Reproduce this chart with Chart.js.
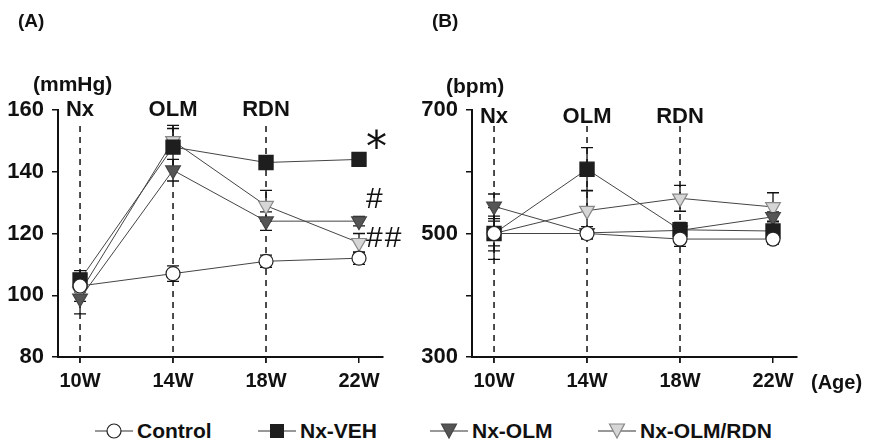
<!DOCTYPE html>
<html>
<head>
<meta charset="utf-8">
<script src="https://cdn.jsdelivr.net/npm/chart.js@4.4.1/dist/chart.umd.min.js"></script>
<style>
  body { margin: 0; background: #fff; font-family: "Liberation Sans", Arial, sans-serif; color: #111; }
  #wrap { position: relative; width: 872px; height: 440px; overflow: hidden; }
  canvas { position: absolute; top: 0; }
  .txt { position: absolute; font-weight: bold; white-space: nowrap; line-height: 1; }
  #legend { position: absolute; top: 419px; left: 0; width: 872px; height: 24px; }
  .item { position: absolute; top: 0; display: flex; align-items: center; font-weight: bold; font-size: 21px; }
  .item svg { margin-right: 4px; }
</style>
</head>
<body>
<div id="wrap">
  <canvas id="chartA" width="436" height="400" style="left:0"></canvas>
  <canvas id="chartB" width="472" height="400" style="left:400px"></canvas>

  <div class="txt" style="left:18px;top:11px;font-size:19px">(A)</div>
  <div class="txt" style="left:432px;top:11px;font-size:19px">(B)</div>
  <div class="txt" style="left:33px;top:73px;font-size:21px">(mmHg)</div>
  <div class="txt" style="left:446px;top:75px;font-size:21px">(bpm)</div>
  <div class="txt" style="left:811px;top:372px;font-size:20px">(Age)</div>

  <div class="txt" style="left:366px;top:126px;font-size:42px;font-weight:normal;font-family:'DejaVu Sans',sans-serif">*</div>
  <div class="txt" style="left:366px;top:183px;font-size:30px;font-weight:normal">#</div>
  <div class="txt" style="left:366px;top:222px;font-size:30px;font-weight:normal;letter-spacing:2px">##</div>

  <div id="legend"></div>
</div>
<script>
// ── Data ──────────────────────────────────────
const weeks = ['10W', '14W', '18W', '22W'];
const seriesNames = ['Control', 'Nx-VEH', 'Nx-OLM', 'Nx-OLM/RDN'];

// (A) blood pressure, mmHg
const bpControl = [103, 107, 111, 112];
const bpVeh     = [105, 148, 143, 144];
const bpOlm     = [99, 140.5, 124, 124];
const bpRdn     = [101, 150, 129, 117];
const bpControlErr = [2, 2.5, 2, 2];
const bpVehErr     = [3, 7, 1, 1];
const bpOlmErr     = [5, 3.5, 3, 1.5];
const bpRdnErr     = [3, 4, 5, 3];
const bpTicks = [80, 100, 120, 140, 160];

// (B) heart rate, bpm
const hrControl = [500, 500, 491, 491];
const hrVeh     = [500, 604, 506, 504];
const hrOlm     = [544, 501, 505, 527];
const hrRdn     = [500, 537, 557, 543];
const hrControlErr = [20, 8, 12, 8];
const hrVehErr     = [42, 35, 12, 8];
const hrOlmErr     = [20, 10, 8, 8];
const hrRdnErr     = [28, 33, 21, 23];
const hrTicks = [300, 400, 500, 600, 700];
const hrLabelled = [300, 500, 700];

const events = ['Nx', 'OLM', 'RDN'];   // at weeks 0, 1, 2

// ── Styles ────────────────────────────────────
const styles = [
  { fill: '#ffffff', stroke: '#222', shape: 'circle',   radius: 7,   rot: 0 },
  { fill: '#1e1e1e', stroke: '#1e1e1e', shape: 'rect',  radius: 10,  rot: 0 },
  { fill: '#555555', stroke: '#444', shape: 'triangle', radius: 8.5, rot: 180 },
  { fill: '#d6d6d6', stroke: '#888', shape: 'triangle', radius: 8.5, rot: 180 },
];
const FONT = '"Liberation Sans", Arial, sans-serif';

function makeDatasets(values, errs) {
  return values.map((vals, i) => ({
    label: seriesNames[i],
    data: vals.map((v, k) => ({ x: k, y: v })),
    errs: errs[i],
    borderColor: '#444',
    borderWidth: 1,
    pointStyle: styles[i].shape,
    pointRadius: styles[i].radius,
    pointRotation: styles[i].rot,
    pointBackgroundColor: styles[i].fill,
    pointBorderColor: styles[i].stroke,
    pointBorderWidth: 1.2,
    tension: 0,
  }));
}

// ── Error bars + dashed event lines ──────────
const extras = {
  id: 'extras',
  beforeDatasetsDraw(chart, args, opts) {
    const { ctx, scales: { x, y }, chartArea } = chart;
    ctx.save();
    // dashed event lines
    ctx.strokeStyle = '#222';
    ctx.lineWidth = 1.6;
    ctx.setLineDash([6, 5]);
    events.forEach((ev, k) => {
      const px = x.getPixelForValue(k);
      ctx.beginPath();
      ctx.moveTo(px, chartArea.top + 16);
      ctx.lineTo(px, chartArea.bottom + 6);
      ctx.stroke();
    });
    ctx.setLineDash([]);
    // event labels
    ctx.fillStyle = '#111';
    ctx.font = 'bold 22px ' + FONT;
    ctx.textAlign = 'center';
    ctx.textBaseline = 'middle';
    events.forEach((ev, k) => {
      ctx.fillText(ev, x.getPixelForValue(k), chartArea.top + opts.labelDy);
    });
    // error bars
    ctx.strokeStyle = '#111';
    ctx.lineWidth = 1.3;
    chart.data.datasets.forEach(ds => {
      ds.data.forEach((p, k) => {
        const e = ds.errs[k];
        const px = x.getPixelForValue(p.x);
        const top = y.getPixelForValue(p.y + e);
        const bot = y.getPixelForValue(p.y - e);
        ctx.beginPath();
        ctx.moveTo(px, top); ctx.lineTo(px, bot);
        ctx.moveTo(px - 6, top); ctx.lineTo(px + 6, top);
        ctx.moveTo(px - 6, bot); ctx.lineTo(px + 6, bot);
        ctx.stroke();
      });
    });
    ctx.restore();
  }
};

function makeChart(id, datasets, ticks, labelled, yAxisWidth, padRight, labelDy) {
  return new Chart(document.getElementById(id), {
    type: 'line',
    data: { datasets },
    options: {
      responsive: false,
      animation: false,
      layout: { padding: { left: 0, top: 110, right: padRight, bottom: 0 } },
      plugins: { legend: { display: false }, tooltip: { enabled: false }, extras: { labelDy } },
      scales: {
        x: {
          type: 'linear',
          min: -0.237,
          max: 3.258,
          afterFit: s => { s.height = 43; },
          afterBuildTicks: s => { s.ticks = weeks.map((w, k) => ({ value: k })); },
          ticks: {
            color: '#111',
            font: { family: FONT, size: 20, weight: 'bold' },
            padding: 6,
            callback: v => weeks[v],
          },
          grid: { drawOnChartArea: false, drawTicks: true, tickLength: 6, color: '#111', lineWidth: 1.5 },
          border: { color: '#111', width: 2 },
        },
        y: {
          min: ticks[0],
          max: ticks[ticks.length - 1],
          afterFit: s => { s.width = yAxisWidth; },
          afterBuildTicks: s => { s.ticks = ticks.map(v => ({ value: v })); },
          ticks: {
            color: '#111',
            font: { family: FONT, size: 22, weight: 'bold' },
            padding: 8,
            callback: v => labelled.includes(v) ? String(v) : '',
          },
          grid: { drawOnChartArea: false, drawTicks: true, tickLength: 6, color: '#111', lineWidth: 1.5 },
          border: { color: '#111', width: 2 },
        }
      }
    },
    plugins: [extras]
  });
}

makeChart('chartA',
  makeDatasets([bpControl, bpVeh, bpOlm, bpRdn], [bpControlErr, bpVehErr, bpOlmErr, bpRdnErr]),
  bpTicks, bpTicks, 58, 53, 0);
makeChart('chartB',
  makeDatasets([hrControl, hrVeh, hrOlm, hrRdn], [hrControlErr, hrVehErr, hrOlmErr, hrRdnErr]),
  hrTicks, hrLabelled, 72, 75, 7);

// ── Legend ────────────────────────────────────
const legendX = [95, 258, 430, 598];
function markerSvg(st) {
  let m;
  if (st.shape === 'circle') m = `<circle cx="19" cy="11" r="7" fill="${st.fill}" stroke="${st.stroke}" stroke-width="1.2"/>`;
  else if (st.shape === 'rect') m = `<rect x="12" y="4" width="14" height="14" fill="${st.fill}"/>`;
  else m = `<polygon points="11.5,4 26.5,4 19,18" fill="${st.fill}" stroke="${st.stroke}" stroke-width="1.2"/>`;
  return `<svg width="38" height="22"><line x1="0" y1="11" x2="38" y2="11" stroke="#333" stroke-width="1.2"/>${m}</svg>`;
}
const legend = document.getElementById('legend');
seriesNames.forEach((name, i) => {
  legend.innerHTML += `<div class="item" style="left:${legendX[i]}px">${markerSvg(styles[i])}<span>${name}</span></div>`;
});
</script>
</body>
</html>
